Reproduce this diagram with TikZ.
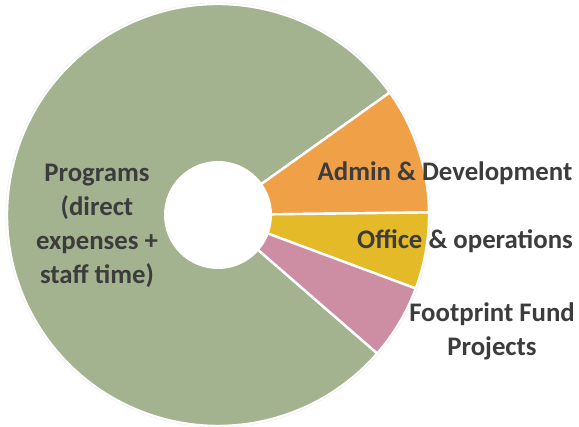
\documentclass[tikz,border=0pt]{standalone}
\usepackage{fontspec}
\setmainfont{Carlito}
\definecolor{cgreen}{RGB}{163,179,143}
\definecolor{corange}{RGB}{240,160,70}
\definecolor{cyellow}{RGB}{228,186,40}
\definecolor{cpink}{RGB}{205,142,163}
\definecolor{ctext}{RGB}{60,60,60}
\begin{document}
\begin{tikzpicture}[x=1pt,y=1pt,
  slice/.style={draw=white,line width=2.4pt,line join=round},
  lbl/.style={font=\fontsize{26.8}{34}\selectfont\bfseries,text=ctext,align=center,inner sep=0pt}]
\useasboundingbox (0,0) rectangle (579,427);
\coordinate (c) at (218,212);
\def\R{211}
\fill[slice,fill=cgreen] (c) -- ++(35.5:\R) arc[start angle=35.5,end angle=319,radius=\R] -- cycle;
\fill[slice,fill=corange] (c) -- ++(0.7:\R) arc[start angle=0.7,end angle=35.5,radius=\R] -- cycle;
\fill[slice,fill=cyellow] (c) -- ++(-20.4:\R) arc[start angle=-20.4,end angle=0.7,radius=\R] -- cycle;
\fill[slice,fill=cpink] (c) -- ++(-41:\R) arc[start angle=-41,end angle=-20.4,radius=\R] -- cycle;
\draw[black!6,line width=0.6pt] (c) circle[radius=\R+1.2];
\fill[white] (c) circle[radius=54];
\node[lbl] (prog) at (97,201) {Programs\\(direct\\expenses +\\staff time)};
\node[lbl] (admin) at (445,254) {Admin \& Development};
\node[lbl] (office) at (465,186) {Office \& operations};
\node[lbl] (foot) at (492,96) {Footprint Fund\\Projects};
\end{tikzpicture}
\end{document}
